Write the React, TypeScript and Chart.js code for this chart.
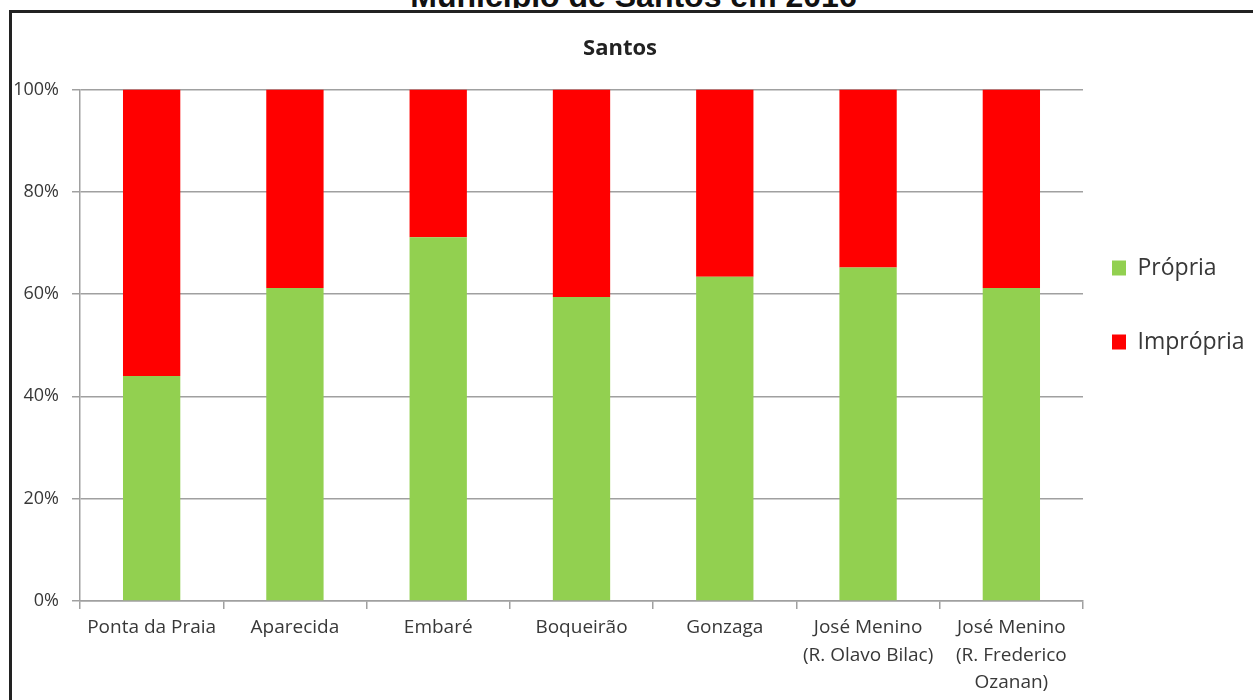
import React, { useEffect, useRef } from 'react';
import { Chart, registerables } from 'chart.js';

Chart.register(...registerables);

const pageTitle = 'Município de Santos em 2016';
const chartTitle = 'Santos';
const seriesNames = ['Própria', 'Imprópria'];
const categories: string[][] = [
  ['Ponta da Praia'],
  ['Aparecida'],
  ['Embaré'],
  ['Boqueirão'],
  ['Gonzaga'],
  ['José Menino', '(R. Olavo Bilac)'],
  ['José Menino', '(R. Frederico', 'Ozanan)'],
];
const propria = [44, 61.2, 71.1, 59.4, 63.4, 65.2, 61.2];
const impropria = [56, 38.8, 28.9, 40.6, 36.6, 34.8, 38.8];
const yTickValues = [0, 20, 40, 60, 80, 100];

const FONT = "'Open Sans', 'DejaVu Sans', sans-serif";
const GRID = '#a0a0a0';
const TEXT = '#383838';
const CANVAS_LEFT = -13;
const CANVAS_W = 1266;
const CANVAS_H = 700;
const LEGEND_W = 170;
const LEGEND_PAD = 51;
const LEGEND_BOX_X = 1112 - CANVAS_LEFT;

const legendPlacer = {
  id: 'legendPlacer',
  beforeLayout(chart: any) {
    const lg = chart.legend;
    if (lg && !lg.__patched) {
      const orig = lg.fit.bind(lg);
      lg.fit = () => {
        orig();
        lg.width = LEGEND_W;
      };
      lg.__patched = true;
    }
  },
  afterLayout(chart: any) {
    const lg = chart.legend;
    if (!lg) return;
    lg.left = LEGEND_BOX_X - LEGEND_PAD;
    lg.right = CANVAS_W;
    lg.width = CANVAS_W - lg.left;
    lg.top = 0;
    lg.bottom = 610;
    lg.height = 610;
  },
};

export default function App() {
  const ref = useRef<HTMLCanvasElement | null>(null);

  useEffect(() => {
    if (!ref.current) return;
    const chart = new Chart(ref.current, {
      type: 'bar',
      data: {
        labels: categories,
        datasets: [
          {
            label: seriesNames[0],
            data: propria,
            backgroundColor: '#92D050',
            barPercentage: 0.4,
            categoryPercentage: 1,
          },
          {
            label: seriesNames[1],
            data: impropria,
            backgroundColor: '#FF0000',
            barPercentage: 0.4,
            categoryPercentage: 1,
          },
        ],
      },
      options: {
        animation: false,
        responsive: false,
        maintainAspectRatio: false,
        layout: { padding: 0 },
        plugins: {
          title: {
            display: true,
            text: chartTitle,
            color: '#222222',
            font: { family: FONT, size: 22, weight: 'bold' },
            padding: { top: 36, bottom: 27 },
          },
          legend: {
            display: true,
            position: 'right',
            labels: {
              boxWidth: 14,
              boxHeight: 15,
              padding: LEGEND_PAD,
              color: TEXT,
              font: { family: FONT, size: 23 },
            },
          },
          tooltip: { enabled: false },
        },
        scales: {
          x: {
            stacked: true,
            offset: true,
            grid: {
              display: true,
              drawOnChartArea: false,
              drawTicks: true,
              tickLength: 8,
              color: GRID,
              lineWidth: 1.5,
              offset: true,
            },
            border: { display: true, color: GRID, width: 1.5 },
            ticks: {
              color: TEXT,
              font: { family: FONT, size: 19, lineHeight: 1.45 },
              padding: 5,
              maxRotation: 0,
              minRotation: 0,
              autoSkip: false,
            },
            afterFit: (s: any) => {
              s.height = 99;
            },
          },
          y: {
            stacked: true,
            min: 0,
            max: 100,
            afterBuildTicks: (s: any) => {
              s.ticks = yTickValues.map((v) => ({ value: v }));
            },
            ticks: {
              color: TEXT,
              font: { family: FONT, size: 18 },
              padding: 13,
              callback: (v: any) => v + '%',
            },
            grid: { color: GRID, lineWidth: 1.5, tickLength: 8 },
            border: { display: true, color: GRID, width: 1.5 },
            afterFit: (s: any) => {
              s.width = 80 - CANVAS_LEFT;
            },
          },
        },
      },
      plugins: [legendPlacer],
    } as any);
    return () => chart.destroy();
  }, []);

  return (
    <div
      style={{
        position: 'fixed',
        left: 0,
        top: 0,
        width: 1253,
        height: 700,
        overflow: 'hidden',
        background: '#ffffff',
      }}
    >
      <div
        style={{
          position: 'absolute',
          left: 0,
          top: 0,
          width: 1253,
          height: 8,
          overflow: 'hidden',
        }}
      >
        <div
          style={{
            position: 'absolute',
            left: 0,
            top: -20,
            width: 1267,
            textAlign: 'center',
            fontFamily: "'Liberation Sans', Arial, sans-serif",
            fontWeight: 'bold',
            fontSize: 32,
            lineHeight: '32px',
            color: '#111',
            whiteSpace: 'nowrap',
          }}
        >
          {pageTitle}
        </div>
      </div>
      <div
        style={{
          position: 'absolute',
          left: 9,
          top: 10,
          width: 1400,
          height: 800,
          border: '3px solid #222',
          boxSizing: 'border-box',
        }}
      />
      <canvas
        ref={ref}
        width={CANVAS_W}
        height={CANVAS_H}
        style={{
          position: 'absolute',
          left: CANVAS_LEFT,
          top: 0,
          width: CANVAS_W,
          height: CANVAS_H,
        }}
      />
    </div>
  );
}
